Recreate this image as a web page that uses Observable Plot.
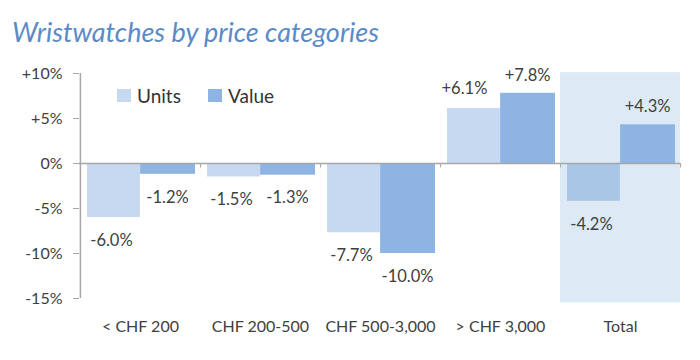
<!DOCTYPE html>
<html>
<head>
<meta charset="utf-8">
<script src="https://cdn.jsdelivr.net/npm/d3@7"></script>
<script src="https://cdn.jsdelivr.net/npm/@observablehq/plot@0.6"></script>
<style>
  body { margin: 0; background: #fff; font-family: Lato, "Open Sans", sans-serif; }
  #wrap { position: relative; width: 700px; height: 360px; }
  #title { height: 52px; box-sizing: border-box; padding: 18px 0 0 12px; font-size: 27px; font-style: italic; color: #5b8ac6; line-height: 1; }
  .legend { position: absolute; top: 84px; font-size: 19px; color: #333; display: flex; align-items: center; }
  .legend span.sw { display: inline-block; width: 14px; height: 13px; margin-right: 6px; }
</style>
</head>
<body>
<div id="wrap">
  <div id="title">Wristwatches by price categories</div>
  <div id="chart"></div>
</div>
<script>
const categories = ["< CHF 200", "CHF 200-500", "CHF 500-3,000", "> CHF 3,000", "Total"];
const units = [-6.0, -1.5, -7.7, 6.1, -4.2];
const value = [-1.2, -1.3, -10.0, 7.8, 4.3];
const yTicks = [-15, -10, -5, 0, 5, 10];
const seriesNames = ["Units", "Value"];

const W = 700, H = 308, mL = 79, mR = 20, mT = 21, mB = 62;
const band = (W - mL - mR) / categories.length;

const cUnits = "#c6d9f1", cUnitsTotal = "#a9c6e7", cValue = "#8db4e2", cHi = "#ddeaf5";
const fmt = v => (v > 0 ? "+" : "") + v.toFixed(1) + "%";

const rows = [];
categories.forEach((c, i) => {
  rows.push({cat: c, series: "Units", v: units[i]});
  rows.push({cat: c, series: "Value", v: value[i]});
});
const uRows = rows.filter(d => d.series === "Units");
const vRows = rows.filter(d => d.series === "Value");
const txt = {x: "cat", y: "v", text: d => fmt(d.v), fill: "#404040", fontSize: 16.5};

const chart = Plot.plot({
  width: W, height: H,
  marginLeft: mL, marginRight: mR, marginTop: mT, marginBottom: mB,
  style: {fontFamily: "Lato, 'Open Sans', sans-serif", fontSize: "16px", color: "#404040", background: "transparent"},
  x: {domain: categories, padding: 0, axis: null, label: null},
  y: {domain: [-15, 10], axis: null, label: null},
  marks: [
    Plot.rectY([{cat: "Total"}], {x: "cat", y1: -15.5, y2: 10.1, fill: cHi}),
    Plot.barY(uRows, {x: "cat", y: "v", fill: d => d.cat === "Total" ? cUnitsTotal : cUnits, insetLeft: 7, insetRight: band / 2}),
    Plot.barY(vRows, {x: "cat", y: "v", fill: cValue, insetLeft: band / 2, insetRight: 5}),
    Plot.ruleY([0], {stroke: "#a6a6a6", strokeWidth: 1.5}),
    Plot.ruleX(categories, {x: d => d, y1: 0, y2: -0.5, dx: band / 2, stroke: "#a6a6a6"}),
    Plot.ruleX([categories[0]], {x: d => d, y1: 10, y2: -15, dx: -band / 2, stroke: "#a6a6a6", strokeWidth: 1.5}),
    Plot.axisY({ticks: yTicks, tickSize: 6, tickPadding: 11, stroke: "#a6a6a6", label: null,
      tickFormat: d => (d > 0 ? "+" : "") + d + "%", fill: "#404040", fontSize: 16}),
    Plot.axisX({anchor: "bottom", tickSize: 0, tickPadding: 22, label: null, fill: "#404040", fontSize: 16}),
    Plot.text(uRows.filter(d => d.v < 0), {...txt, dx: -band / 4 + 1, dy: 23}),
    Plot.text(uRows.filter(d => d.v >= 0), {...txt, dx: -band / 4 - 6, dy: -20}),
    Plot.text(vRows.filter(d => d.v < 0), {...txt, dx: band / 4 - 3, dy: 23}),
    Plot.text(vRows.filter(d => d.v >= 0), {...txt, dx: band / 4 - 3, dy: -18})
  ]
});
document.getElementById("chart").appendChild(chart);

// legend
const wrap = document.getElementById("wrap");
const lx = [117, 208];
seriesNames.forEach((s, i) => {
  const d = document.createElement("div");
  d.className = "legend";
  d.style.left = lx[i] + "px";
  d.innerHTML = `<span class="sw" style="background:${i === 0 ? cUnits : cValue}"></span>${s}`;
  wrap.appendChild(d);
});
</script>
</body>
</html>
